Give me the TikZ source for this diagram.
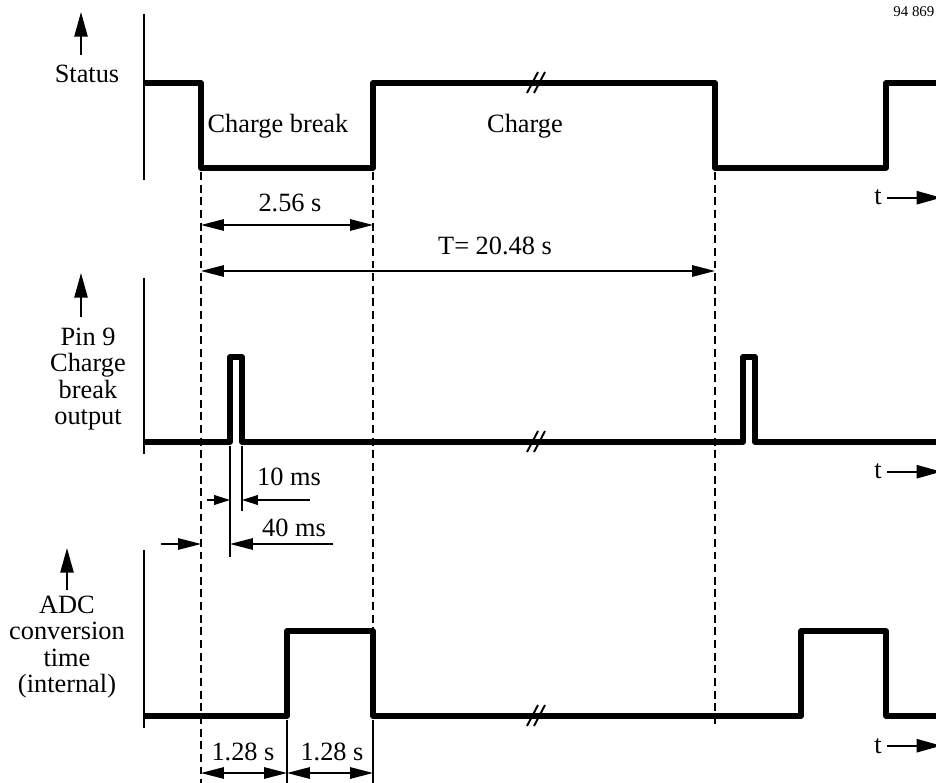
\documentclass[tikz,border=0pt]{standalone}
\usepackage{fontspec}
\setmainfont{Liberation Serif}
\usetikzlibrary{arrows.meta}
\tikzset{
	pegel/.style={line width=3pt, line join=round},
	achse/.style={line width=1.1pt, >={Triangle[length=14pt,width=7.5pt]}},
	hilfslinie/.style={line width=1pt, dash pattern=on 4.5pt off 2.7pt},
	mass/.style={line width=0.8pt, >={Triangle[length=13pt,width=6.5pt]}},
	kleinmass/.style={line width=0.8pt, >={Triangle[length=9pt,width=5.5pt]}},
	beschr/.style={font=\fontsize{15}{15}\selectfont, inner sep=0pt}
}
\begin{document}
\begin{tikzpicture}[x=0.02cm,y=-0.02cm]
		%Hintergrund
		\useasboundingbox (0,0) rectangle (936,783);
		\node [beschr, font=\fontsize{8.5}{9}\selectfont, anchor=base west] (nummer) at (893,17) {94 869};
		% Status
		\draw [achse] (144,14) -- (144,180);
		\draw [achse,->] (81,55) -- (81,12);
		\node [beschr, anchor=base] (status) at (87,83) {Status};
		\draw [pegel] (144,83) -- (201,83) -- (201,168) -- (373,168) -- (373,83) -- (715,83) -- (715,168) -- (886,168) -- (886,83) -- (936,83);
		\node [beschr, anchor=base] (pause) at (278,133) {Charge break};
		\node [beschr, anchor=base] (laden) at (525,133) {Charge};
		\node [beschr, anchor=base] (t1) at (878,205) {t};
		\draw [achse,->] ([xshift=3pt]t1.east) -- ++(54,0);
		% Pin 9
		\draw [achse] (144,278) -- (144,454);
		\draw [achse,->] (81,317) -- (81,273);
		\node [beschr, align=center] (pin) at (88,379) {Pin 9\\Charge\\break\\output};
		\draw [pegel] (144,442) -- (230,442) -- (230,357) -- (242,357) -- (242,442) -- (743,442) -- (743,357) -- (755,357) -- (755,442) -- (936,442);
		\node [beschr, anchor=base] (t2) at (878,479) {t};
		\draw [achse,->] ([xshift=3pt]t2.east) -- ++(54,0);
		% ADC
		\draw [achse] (144,550) -- (144,728);
		\draw [achse,->] (67,590) -- (67,548);
		\node [beschr, align=center] (adc) at (67,647) {ADC\\conversion\\time\\(internal)};
		\draw [pegel] (144,716) -- (287,716) -- (287,631) -- (373,631) -- (373,716) -- (801,716) -- (801,631) -- (886,631) -- (886,716) -- (936,716);
		\node [beschr, anchor=base] (t3) at (878,753) {t};
		\draw [achse,->] ([xshift=3pt]t3.east) -- ++(54,0);
		% Unterbrechung
		\foreach \y in {83,442,716} {
			\draw [line width=1.1pt] (527,\y+10) -- ++(11,-21) (534,\y+10) -- ++(11,-21);
		}
		% Hilfslinien
		\draw [hilfslinie] (201,172) -- (201,783);
		\draw [hilfslinie] (373,172) -- (373,631);
		\draw [hilfslinie] (715,172) -- (715,728);
		\draw [mass] (230,446) -- (230,557);
		\draw [mass] (242,446) -- (242,511);
		\draw [mass] (287,720) -- (287,783);
		\draw [mass] (373,720) -- (373,783);
		% Bemassung
		\draw [mass,<->] (201,225) -- (373,225);
		\node [beschr, anchor=base] (d1) at (290,212) {2.56 s};
		\draw [mass,<->] (201,271) -- (715,271);
		\node [beschr, anchor=base] (d2) at (495,255) {T= 20.48 s};
		\draw [kleinmass,->] (207,500) -- (230,500);
		\draw [kleinmass,->] (310,500) -- (242,500);
		\node [beschr, anchor=base] (d3) at (289,485) {10 ms};
		\draw [mass,->] (161,544) -- (201,544);
		\draw [mass,->] (333,544) -- (230,544);
		\node [beschr, anchor=base] (d4) at (294,536) {40 ms};
		\draw [mass,<->] (201,773) -- (287,773);
		\draw [mass,<->] (287,773) -- (373,773);
		\node [beschr, anchor=base] (d5) at (243,760) {1.28 s};
		\node [beschr, anchor=base] (d6) at (332,760) {1.28 s};
\end{tikzpicture}
\end{document}
